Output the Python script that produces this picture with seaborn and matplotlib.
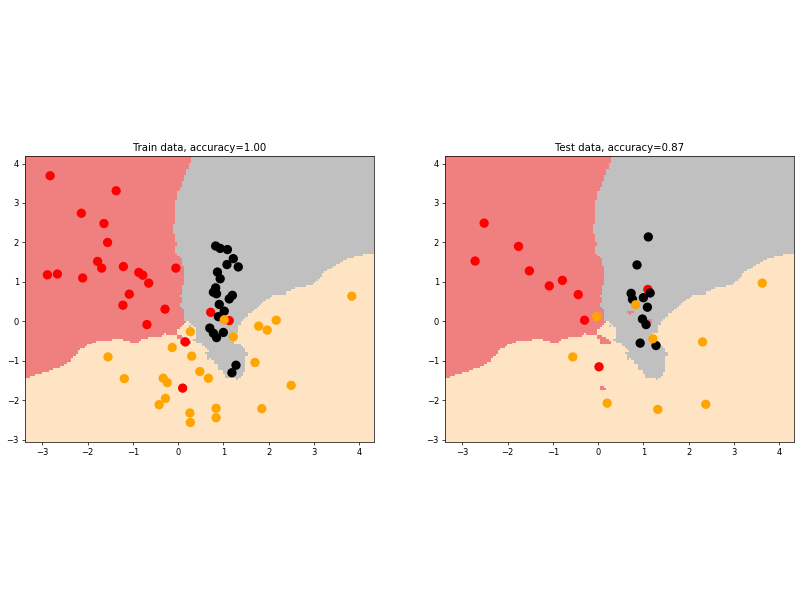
import numpy as np
import pandas as pd
import matplotlib
matplotlib.use('Agg')
import matplotlib.pyplot as plt
import seaborn as sns
from matplotlib.colors import ListedColormap

# train points, class 0 = red, 1 = black, 2 = orange
train_red_x = [-2.83, -1.37, -2.14, -1.64, -1.56, -1.78, -1.69, -1.21, -2.89, -2.67, -2.11, -0.87,
               -0.78, -0.65, -0.05, -1.08, -1.22, -0.29, -0.69, 0.16, 0.10, 0.72, 1.13]
train_red_y = [3.69, 3.31, 2.74, 2.48, 2.00, 1.52, 1.35, 1.39, 1.18, 1.20, 1.10, 1.24,
               1.17, 0.97, 1.35, 0.69, 0.41, 0.31, -0.08, -0.52, -1.69, 0.23, 0.02]
train_black_x = [0.83, 0.93, 1.09, 1.22, 1.08, 1.33, 0.87, 0.93, 0.83, 0.78, 0.85, 1.20,
                 1.13, 0.91, 1.02, 0.89, 0.70, 0.78, 1.00, 0.85, 1.28, 1.19]
train_black_y = [1.91, 1.85, 1.82, 1.59, 1.44, 1.38, 1.25, 1.08, 0.85, 0.74, 0.70, 0.66,
                 0.57, 0.43, 0.26, 0.12, -0.17, -0.30, -0.28, -0.41, -1.11, -1.30]
train_orange_x = [0.27, -0.13, 0.30, -1.55, 0.48, -1.19, -0.33, -0.24, -0.28, -0.42, 0.26, 0.27,
                  0.67, 1.02, 1.22, 1.78, 1.97, 2.17, 3.84, 1.70, 2.50, 1.85, 0.84, 0.84]
train_orange_y = [-0.26, -0.66, -0.88, -0.90, -1.27, -1.45, -1.44, -1.55, -1.95, -2.11, -2.32, -2.56,
                  -1.44, 0.04, -0.39, -0.12, -0.22, 0.03, 0.64, -1.04, -1.62, -2.21, -2.20, -2.44]

# test points
test_red_x = [-2.52, -1.76, -2.72, -1.52, -1.08, -0.79, -0.44, -0.30, 0.02, 1.10]
test_red_y = [2.49, 1.90, 1.53, 1.28, 0.90, 1.04, 0.68, 0.03, -1.15, 0.81]
test_black_x = [1.11, 0.86, 0.73, 0.76, 1.00, 1.15, 1.09, 0.98, 1.06, 0.93, 1.28]
test_black_y = [2.14, 1.43, 0.71, 0.56, 0.60, 0.72, 0.36, 0.06, -0.08, -0.55, -0.61]
test_orange_x = [-0.03, -0.56, 0.20, 0.83, 1.21, 2.31, 3.63, 1.32, 2.38]
test_orange_y = [0.12, -0.90, -2.07, 0.42, -0.44, -0.52, 0.97, -2.23, -2.10]

titles = ['Train data, accuracy=1.00', 'Test data, accuracy=0.87']


def make_df(rx, ry, bx, by, ox, oy):
    return pd.DataFrame({
        'x': rx + bx + ox,
        'y': ry + by + oy,
        'label': [0] * len(rx) + [1] * len(bx) + [2] * len(ox),
    })


train = make_df(train_red_x, train_red_y, train_black_x, train_black_y, train_orange_x, train_orange_y)
test = make_df(test_red_x, test_red_y, test_black_x, test_black_y, test_orange_x, test_orange_y)

# knn with distance weights, fitted on train
def knn_predict(pts, k=10):
    X = train[['x', 'y']].values
    lab = train['label'].values
    d = np.sqrt(((pts[:, None, :] - X[None, :, :]) ** 2).sum(-1))
    idx = np.argsort(d, axis=1)[:, :k]
    dd = np.take_along_axis(d, idx, axis=1)
    w = 1.0 / np.maximum(dd, 1e-9)
    score = np.zeros((len(pts), 3))
    for c in range(3):
        score[:, c] = (w * (lab[idx] == c)).sum(1)
    return score.argmax(1)


h = 0.05
x_min, x_max = train['x'].min() - 0.5, train['x'].max() + 0.5
y_min, y_max = train['y'].min() - 0.5, train['y'].max() + 0.5
xx, yy = np.meshgrid(np.arange(x_min, x_max + h, h), np.arange(y_min, y_max + h, h))
Z = knn_predict(np.c_[xx.ravel(), yy.ravel()]).reshape(xx.shape)

cmap_light = ListedColormap(['lightcoral', 'silver', 'bisque'])
palette = {0: 'red', 1: 'black', 2: 'orange'}

fig = plt.figure(figsize=(8, 6), dpi=100)
axes = [fig.add_axes([0.031, 0.263, 0.437, 0.477]),
        fig.add_axes([0.556, 0.263, 0.437, 0.477])]

for ax, df, title in zip(axes, [train, test], titles):
    ax.pcolormesh(xx, yy, Z, cmap=cmap_light, shading='auto')
    sns.scatterplot(data=df, x='x', y='y', hue='label', palette=palette,
                    s=45, linewidth=0, legend=False, ax=ax)
    ax.set_xlim(x_min, x_max)
    ax.set_ylim(y_min, y_max)
    ax.set_title(title, fontsize=7.3, pad=3.6)
    ax.set_xlabel('')
    ax.set_ylabel('')
    ax.tick_params(labelsize=6, length=2.1, width=0.5, pad=2.1)
    for sp in ax.spines.values():
        sp.set_linewidth(0.5)

fig.savefig('out.png', dpi=100)
